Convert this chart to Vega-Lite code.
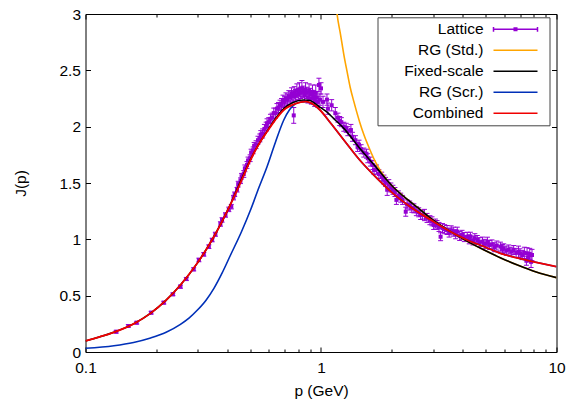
{
  "$schema": "https://vega.github.io/schema/vega-lite/v6.json",
  "width": 471,
  "height": 338,
  "autosize": {"type": "none"},
  "padding": {"left": 85.5, "top": 14, "right": 18.5, "bottom": 48},
  "config": {
    "font": "Liberation Sans",
    "view": {"stroke": "#000", "strokeWidth": 1},
    "axis": {"grid": false, "domain": false, "labelFontSize": 15.5, "titleFontSize": 15.5, "labelColor": "#000", "titleColor": "#000", "titleFontWeight": "normal", "tickColor": "#000", "tickWidth": 1, "labelFlush": false, "labelOverlap": false}
  },
  "datasets": {
    "lat": [
      {"p":0.135,"j":0.180,"lo":0.168,"hi":0.192},
      {"p":0.152,"j":0.231,"lo":0.219,"hi":0.243},
      {"p":0.165,"j":0.260,"lo":0.248,"hi":0.272},
      {"p":0.190,"j":0.349,"lo":0.337,"hi":0.361},
      {"p":0.215,"j":0.438,"lo":0.426,"hi":0.450},
      {"p":0.235,"j":0.512,"lo":0.500,"hi":0.524},
      {"p":0.253,"j":0.580,"lo":0.566,"hi":0.594},
      {"p":0.268,"j":0.648,"lo":0.634,"hi":0.662},
      {"p":0.288,"j":0.734,"lo":0.720,"hi":0.748},
      {"p":0.303,"j":0.817,"lo":0.801,"hi":0.833},
      {"p":0.318,"j":0.867,"lo":0.851,"hi":0.883},
      {"p":0.334,"j":0.935,"lo":0.919,"hi":0.951},
      {"p":0.345,"j":0.994,"lo":0.978,"hi":1.010},
      {"p":0.356,"j":1.045,"lo":1.027,"hi":1.063},
      {"p":0.374,"j":1.136,"lo":1.116,"hi":1.156},
      {"p":0.380,"j":1.172,"lo":1.152,"hi":1.192},
      {"p":0.393,"j":1.216,"lo":1.196,"hi":1.236},
      {"p":0.406,"j":1.266,"lo":1.246,"hi":1.286},
      {"p":0.416,"j":1.290,"lo":1.270,"hi":1.310},
      {"p":0.425,"j":1.37,"lo":1.35,"hi":1.39},
      {"p":0.43,"j":1.40,"lo":1.38,"hi":1.42},
      {"p":0.44,"j":1.44,"lo":1.42,"hi":1.46},
      {"p":0.445,"j":1.49,"lo":1.465,"hi":1.515},
      {"p":0.455,"j":1.52,"lo":1.495,"hi":1.545},
      {"p":0.46,"j":1.56,"lo":1.535,"hi":1.585},
      {"p":0.47,"j":1.58,"lo":1.55,"hi":1.61},
      {"p":0.475,"j":1.63,"lo":1.60,"hi":1.66},
      {"p":0.485,"j":1.66,"lo":1.63,"hi":1.69},
      {"p":0.49,"j":1.70,"lo":1.67,"hi":1.73},
      {"p":0.50,"j":1.72,"lo":1.69,"hi":1.75},
      {"p":0.505,"j":1.77,"lo":1.74,"hi":1.80},
      {"p":0.515,"j":1.79,"lo":1.76,"hi":1.82},
      {"p":0.52,"j":1.83,"lo":1.80,"hi":1.86},
      {"p":0.53,"j":1.84,"lo":1.805,"hi":1.875},
      {"p":0.54,"j":1.88,"lo":1.845,"hi":1.915},
      {"p":0.55,"j":1.90,"lo":1.865,"hi":1.935},
      {"p":0.555,"j":1.93,"lo":1.895,"hi":1.965},
      {"p":0.565,"j":1.94,"lo":1.90,"hi":1.98},
      {"p":0.575,"j":1.98,"lo":1.94,"hi":2.02},
      {"p":0.585,"j":2.00,"lo":1.96,"hi":2.04},
      {"p":0.59,"j":2.03,"lo":1.99,"hi":2.07},
      {"p":0.60,"j":2.04,"lo":2.00,"hi":2.08},
      {"p":0.61,"j":2.07,"lo":2.03,"hi":2.11},
      {"p":0.62,"j":2.08,"lo":2.04,"hi":2.12},
      {"p":0.63,"j":2.12,"lo":2.075,"hi":2.165},
      {"p":0.64,"j":2.12,"lo":2.075,"hi":2.165},
      {"p":0.65,"j":2.16,"lo":2.115,"hi":2.205},
      {"p":0.66,"j":2.17,"lo":2.125,"hi":2.215},
      {"p":0.67,"j":2.19,"lo":2.145,"hi":2.235},
      {"p":0.68,"j":2.20,"lo":2.15,"hi":2.25},
      {"p":0.69,"j":2.23,"lo":2.18,"hi":2.28},
      {"p":0.70,"j":2.22,"lo":2.17,"hi":2.27},
      {"p":0.71,"j":2.25,"lo":2.20,"hi":2.30},
      {"p":0.72,"j":2.24,"lo":2.19,"hi":2.29},
      {"p":0.73,"j":2.27,"lo":2.22,"hi":2.32},
      {"p":0.74,"j":2.26,"lo":2.21,"hi":2.31},
      {"p":0.75,"j":2.29,"lo":2.235,"hi":2.345},
      {"p":0.76,"j":2.27,"lo":2.22,"hi":2.32},
      {"p":0.766,"j":2.10,"lo":2.03,"hi":2.17},
      {"p":0.77,"j":2.30,"lo":2.245,"hi":2.355},
      {"p":0.78,"j":2.28,"lo":2.23,"hi":2.33},
      {"p":0.79,"j":2.32,"lo":2.26,"hi":2.38},
      {"p":0.80,"j":2.29,"lo":2.24,"hi":2.34},
      {"p":0.81,"j":2.33,"lo":2.27,"hi":2.39},
      {"p":0.82,"j":2.30,"lo":2.25,"hi":2.35},
      {"p":0.83,"j":2.34,"lo":2.27,"hi":2.41},
      {"p":0.84,"j":2.31,"lo":2.26,"hi":2.36},
      {"p":0.85,"j":2.28,"lo":2.23,"hi":2.33},
      {"p":0.86,"j":2.33,"lo":2.27,"hi":2.39},
      {"p":0.87,"j":2.30,"lo":2.25,"hi":2.35},
      {"p":0.88,"j":2.26,"lo":2.21,"hi":2.31},
      {"p":0.89,"j":2.32,"lo":2.26,"hi":2.38},
      {"p":0.90,"j":2.29,"lo":2.24,"hi":2.34},
      {"p":0.91,"j":2.25,"lo":2.20,"hi":2.30},
      {"p":0.92,"j":2.31,"lo":2.25,"hi":2.37},
      {"p":0.93,"j":2.27,"lo":2.22,"hi":2.32},
      {"p":0.94,"j":2.23,"lo":2.18,"hi":2.28},
      {"p":0.95,"j":2.30,"lo":2.23,"hi":2.37},
      {"p":0.96,"j":2.26,"lo":2.21,"hi":2.31},
      {"p":0.97,"j":2.22,"lo":2.17,"hi":2.27},
      {"p":0.98,"j":2.37,"lo":2.31,"hi":2.43},
      {"p":0.99,"j":2.24,"lo":2.19,"hi":2.29},
      {"p":1.00,"j":2.34,"lo":2.29,"hi":2.39},
      {"p":1.02,"j":2.22,"lo":2.17,"hi":2.27},
      {"p":1.06,"j":2.24,"lo":2.19,"hi":2.29},
      {"p":1.07,"j":2.16,"lo":2.11,"hi":2.21},
      {"p":1.11,"j":2.19,"lo":2.14,"hi":2.24},
      {"p":1.15,"j":2.12,"lo":2.07,"hi":2.17},
      {"p":1.18,"j":2.08,"lo":2.04,"hi":2.12},
      {"p":1.2,"j":2.05,"lo":2.01,"hi":2.09},
      {"p":1.22,"j":2.04,"lo":2.00,"hi":2.08},
      {"p":1.25,"j":2.00,"lo":1.96,"hi":2.04},
      {"p":1.28,"j":1.99,"lo":1.95,"hi":2.03},
      {"p":1.3,"j":1.96,"lo":1.92,"hi":2.00},
      {"p":1.34,"j":1.97,"lo":1.92,"hi":2.02},
      {"p":1.36,"j":1.91,"lo":1.87,"hi":1.95},
      {"p":1.4,"j":1.88,"lo":1.84,"hi":1.92},
      {"p":1.43,"j":1.82,"lo":1.78,"hi":1.86},
      {"p":1.45,"j":1.84,"lo":1.80,"hi":1.88},
      {"p":1.48,"j":1.80,"lo":1.76,"hi":1.84},
      {"p":1.52,"j":1.77,"lo":1.73,"hi":1.81},
      {"p":1.56,"j":1.76,"lo":1.72,"hi":1.80},
      {"p":1.58,"j":1.72,"lo":1.68,"hi":1.76},
      {"p":1.62,"j":1.69,"lo":1.65,"hi":1.73},
      {"p":1.66,"j":1.66,"lo":1.62,"hi":1.70},
      {"p":1.68,"j":1.615,"lo":1.575,"hi":1.655},
      {"p":1.72,"j":1.62,"lo":1.58,"hi":1.66},
      {"p":1.76,"j":1.58,"lo":1.54,"hi":1.62},
      {"p":1.81,"j":1.556,"lo":1.516,"hi":1.596},
      {"p":1.85,"j":1.53,"lo":1.49,"hi":1.57},
      {"p":1.88,"j":1.51,"lo":1.47,"hi":1.55},
      {"p":1.91,"j":1.44,"lo":1.39,"hi":1.49},
      {"p":1.94,"j":1.49,"lo":1.45,"hi":1.53},
      {"p":1.98,"j":1.46,"lo":1.42,"hi":1.50},
      {"p":2.02,"j":1.44,"lo":1.40,"hi":1.48},
      {"p":2.06,"j":1.42,"lo":1.38,"hi":1.46},
      {"p":2.09,"j":1.35,"lo":1.31,"hi":1.39},
      {"p":2.13,"j":1.39,"lo":1.35,"hi":1.43},
      {"p":2.18,"j":1.37,"lo":1.33,"hi":1.41},
      {"p":2.22,"j":1.35,"lo":1.31,"hi":1.39},
      {"p":2.29,"j":1.245,"lo":1.205,"hi":1.285},
      {"p":2.32,"j":1.31,"lo":1.27,"hi":1.35},
      {"p":2.38,"j":1.30,"lo":1.26,"hi":1.34},
      {"p":2.43,"j":1.28,"lo":1.24,"hi":1.32},
      {"p":2.48,"j":1.275,"lo":1.235,"hi":1.315},
      {"p":2.54,"j":1.25,"lo":1.21,"hi":1.29},
      {"p":2.6,"j":1.24,"lo":1.20,"hi":1.28},
      {"p":2.65,"j":1.216,"lo":1.176,"hi":1.256},
      {"p":2.7,"j":1.22,"lo":1.18,"hi":1.26},
      {"p":2.75,"j":1.216,"lo":1.166,"hi":1.266},
      {"p":2.82,"j":1.19,"lo":1.15,"hi":1.23},
      {"p":2.9,"j":1.17,"lo":1.13,"hi":1.21},
      {"p":2.96,"j":1.16,"lo":1.12,"hi":1.20},
      {"p":3.01,"j":1.127,"lo":1.087,"hi":1.167},
      {"p":3.06,"j":1.14,"lo":1.10,"hi":1.18},
      {"p":3.11,"j":1.127,"lo":1.087,"hi":1.167},
      {"p":3.17,"j":1.11,"lo":1.07,"hi":1.15},
      {"p":3.22,"j":1.023,"lo":0.988,"hi":1.058},
      {"p":3.28,"j":1.10,"lo":1.06,"hi":1.14},
      {"p":3.35,"j":1.09,"lo":1.05,"hi":1.13},
      {"p":3.43,"j":1.083,"lo":1.043,"hi":1.123},
      {"p":3.5,"j":1.06,"lo":1.02,"hi":1.10},
      {"p":3.57,"j":1.08,"lo":1.04,"hi":1.12},
      {"p":3.66,"j":1.068,"lo":1.028,"hi":1.108},
      {"p":3.73,"j":1.045,"lo":1.005,"hi":1.085},
      {"p":3.79,"j":1.068,"lo":1.028,"hi":1.108},
      {"p":3.88,"j":1.03,"lo":0.99,"hi":1.07},
      {"p":3.97,"j":1.04,"lo":1.00,"hi":1.08},
      {"p":4.06,"j":1.02,"lo":0.98,"hi":1.06},
      {"p":4.18,"j":1.023,"lo":0.983,"hi":1.063},
      {"p":4.26,"j":1.00,"lo":0.96,"hi":1.04},
      {"p":4.31,"j":1.023,"lo":0.983,"hi":1.063},
      {"p":4.42,"j":0.99,"lo":0.95,"hi":1.03},
      {"p":4.5,"j":1.01,"lo":0.97,"hi":1.05},
      {"p":4.61,"j":0.994,"lo":0.954,"hi":1.034},
      {"p":4.72,"j":0.975,"lo":0.935,"hi":1.015},
      {"p":4.85,"j":0.98,"lo":0.94,"hi":1.02},
      {"p":4.97,"j":0.96,"lo":0.92,"hi":1.00},
      {"p":5.09,"j":0.979,"lo":0.939,"hi":1.019},
      {"p":5.2,"j":0.95,"lo":0.91,"hi":0.99},
      {"p":5.32,"j":0.955,"lo":0.915,"hi":0.995},
      {"p":5.45,"j":0.93,"lo":0.89,"hi":0.97},
      {"p":5.58,"j":0.945,"lo":0.905,"hi":0.985},
      {"p":5.78,"j":0.935,"lo":0.895,"hi":0.975},
      {"p":5.9,"j":0.915,"lo":0.875,"hi":0.955},
      {"p":5.97,"j":0.92,"lo":0.88,"hi":0.96},
      {"p":6.12,"j":0.90,"lo":0.86,"hi":0.94},
      {"p":6.27,"j":0.91,"lo":0.87,"hi":0.95},
      {"p":6.42,"j":0.89,"lo":0.85,"hi":0.93},
      {"p":6.58,"j":0.905,"lo":0.865,"hi":0.945},
      {"p":6.74,"j":0.88,"lo":0.84,"hi":0.92},
      {"p":6.9,"j":0.89,"lo":0.84,"hi":0.94},
      {"p":7.0,"j":0.876,"lo":0.836,"hi":0.916},
      {"p":7.15,"j":0.86,"lo":0.82,"hi":0.90},
      {"p":7.3,"j":0.88,"lo":0.83,"hi":0.93},
      {"p":7.45,"j":0.81,"lo":0.77,"hi":0.85},
      {"p":7.5,"j":0.876,"lo":0.826,"hi":0.926},
      {"p":7.6,"j":0.84,"lo":0.80,"hi":0.88},
      {"p":7.7,"j":0.87,"lo":0.82,"hi":0.92},
      {"p":7.8,"j":0.80,"lo":0.75,"hi":0.85},
      {"p":7.87,"j":0.861,"lo":0.811,"hi":0.911}
    ],
    "curves": [
      {"s":"RG (Std.)","p":1.15,"j":3.15},
      {"s":"RG (Std.)","p":1.17,"j":3.0},
      {"s":"RG (Std.)","p":1.21,"j":2.82},
      {"s":"RG (Std.)","p":1.25,"j":2.64},
      {"s":"RG (Std.)","p":1.29,"j":2.49},
      {"s":"RG (Std.)","p":1.33,"j":2.35},
      {"s":"RG (Std.)","p":1.38,"j":2.22},
      {"s":"RG (Std.)","p":1.46,"j":2.04},
      {"s":"RG (Std.)","p":1.52,"j":1.93},
      {"s":"RG (Std.)","p":1.61,"j":1.80},
      {"s":"RG (Std.)","p":1.70,"j":1.69},
      {"s":"RG (Std.)","p":1.80,"j":1.60},
      {"s":"RG (Std.)","p":1.90,"j":1.53},
      {"s":"RG (Std.)","p":1.97,"j":1.49},
      {"s":"RG (Std.)","p":2.05,"j":1.455},
      {"s":"RG (Std.)","p":2.39,"j":1.334},
      {"s":"RG (Std.)","p":2.65,"j":1.26},
      {"s":"RG (Std.)","p":3.0,"j":1.17},
      {"s":"RG (Std.)","p":3.55,"j":1.068},
      {"s":"RG (Std.)","p":4.2,"j":0.98},
      {"s":"RG (Std.)","p":4.93,"j":0.905},
      {"s":"RG (Std.)","p":5.8,"j":0.835},
      {"s":"RG (Std.)","p":6.83,"j":0.772},
      {"s":"RG (Std.)","p":8.2,"j":0.71},
      {"s":"RG (Std.)","p":10,"j":0.66},
      {"s":"Fixed-scale","p":0.1,"j":0.098},
      {"s":"Fixed-scale","p":0.1318,"j":0.175},
      {"s":"Fixed-scale","p":0.16,"j":0.25},
      {"s":"Fixed-scale","p":0.1887,"j":0.343},
      {"s":"Fixed-scale","p":0.22,"j":0.46},
      {"s":"Fixed-scale","p":0.253,"j":0.595},
      {"s":"Fixed-scale","p":0.298,"j":0.787},
      {"s":"Fixed-scale","p":0.3508,"j":1.023},
      {"s":"Fixed-scale","p":0.406,"j":1.28},
      {"s":"Fixed-scale","p":0.45,"j":1.49},
      {"s":"Fixed-scale","p":0.502,"j":1.71},
      {"s":"Fixed-scale","p":0.55,"j":1.86},
      {"s":"Fixed-scale","p":0.59,"j":1.96},
      {"s":"Fixed-scale","p":0.64,"j":2.07},
      {"s":"Fixed-scale","p":0.695,"j":2.16},
      {"s":"Fixed-scale","p":0.76,"j":2.215},
      {"s":"Fixed-scale","p":0.84,"j":2.237},
      {"s":"Fixed-scale","p":0.898,"j":2.232},
      {"s":"Fixed-scale","p":0.963,"j":2.19},
      {"s":"Fixed-scale","p":1.055,"j":2.133},
      {"s":"Fixed-scale","p":1.135,"j":2.07},
      {"s":"Fixed-scale","p":1.25,"j":1.985},
      {"s":"Fixed-scale","p":1.46,"j":1.808},
      {"s":"Fixed-scale","p":1.73,"j":1.63},
      {"s":"Fixed-scale","p":2.02,"j":1.467},
      {"s":"Fixed-scale","p":2.39,"j":1.334},
      {"s":"Fixed-scale","p":2.65,"j":1.26},
      {"s":"Fixed-scale","p":3.0,"j":1.17},
      {"s":"Fixed-scale","p":3.55,"j":1.068},
      {"s":"Fixed-scale","p":4.2,"j":0.98},
      {"s":"Fixed-scale","p":4.93,"j":0.905},
      {"s":"Fixed-scale","p":5.8,"j":0.835},
      {"s":"Fixed-scale","p":6.83,"j":0.772},
      {"s":"Fixed-scale","p":8.2,"j":0.71},
      {"s":"Fixed-scale","p":10,"j":0.66},
      {"s":"RG (Scr.)","p":0.1,"j":0.033},
      {"s":"RG (Scr.)","p":0.132,"j":0.056},
      {"s":"RG (Scr.)","p":0.16,"j":0.085},
      {"s":"RG (Scr.)","p":0.189,"j":0.125},
      {"s":"RG (Scr.)","p":0.22,"j":0.175},
      {"s":"RG (Scr.)","p":0.253,"j":0.245},
      {"s":"RG (Scr.)","p":0.275,"j":0.30},
      {"s":"RG (Scr.)","p":0.298,"j":0.37},
      {"s":"RG (Scr.)","p":0.325,"j":0.46},
      {"s":"RG (Scr.)","p":0.351,"j":0.565},
      {"s":"RG (Scr.)","p":0.38,"j":0.70},
      {"s":"RG (Scr.)","p":0.413,"j":0.861},
      {"s":"RG (Scr.)","p":0.46,"j":1.07},
      {"s":"RG (Scr.)","p":0.502,"j":1.26},
      {"s":"RG (Scr.)","p":0.545,"j":1.46},
      {"s":"RG (Scr.)","p":0.59,"j":1.645},
      {"s":"RG (Scr.)","p":0.64,"j":1.86},
      {"s":"RG (Scr.)","p":0.695,"j":2.059},
      {"s":"RG (Scr.)","p":0.735,"j":2.15},
      {"s":"RG (Scr.)","p":0.766,"j":2.192},
      {"s":"RG (Scr.)","p":0.80,"j":2.215},
      {"s":"RG (Scr.)","p":0.86,"j":2.222},
      {"s":"RG (Scr.)","p":0.898,"j":2.213},
      {"s":"RG (Scr.)","p":0.99,"j":2.148},
      {"s":"RG (Scr.)","p":1.10,"j":2.03},
      {"s":"RG (Scr.)","p":1.25,"j":1.882},
      {"s":"RG (Scr.)","p":1.46,"j":1.704},
      {"s":"RG (Scr.)","p":1.73,"j":1.541},
      {"s":"RG (Scr.)","p":2.02,"j":1.408},
      {"s":"RG (Scr.)","p":2.39,"j":1.29},
      {"s":"RG (Scr.)","p":3.01,"j":1.157},
      {"s":"RG (Scr.)","p":3.6,"j":1.06},
      {"s":"RG (Scr.)","p":4.18,"j":0.994},
      {"s":"RG (Scr.)","p":5.0,"j":0.93},
      {"s":"RG (Scr.)","p":5.78,"j":0.876},
      {"s":"RG (Scr.)","p":6.8,"j":0.835},
      {"s":"RG (Scr.)","p":8.01,"j":0.801},
      {"s":"RG (Scr.)","p":10,"j":0.757},
      {"s":"Combined","p":0.1,"j":0.098},
      {"s":"Combined","p":0.115,"j":0.135},
      {"s":"Combined","p":0.1318,"j":0.175},
      {"s":"Combined","p":0.16,"j":0.25},
      {"s":"Combined","p":0.1887,"j":0.343},
      {"s":"Combined","p":0.22,"j":0.46},
      {"s":"Combined","p":0.253,"j":0.595},
      {"s":"Combined","p":0.298,"j":0.787},
      {"s":"Combined","p":0.3508,"j":1.023},
      {"s":"Combined","p":0.406,"j":1.28},
      {"s":"Combined","p":0.45,"j":1.48},
      {"s":"Combined","p":0.502,"j":1.704},
      {"s":"Combined","p":0.55,"j":1.86},
      {"s":"Combined","p":0.59,"j":1.955},
      {"s":"Combined","p":0.64,"j":2.06},
      {"s":"Combined","p":0.695,"j":2.148},
      {"s":"Combined","p":0.78,"j":2.205},
      {"s":"Combined","p":0.86,"j":2.222},
      {"s":"Combined","p":0.898,"j":2.213},
      {"s":"Combined","p":0.99,"j":2.148},
      {"s":"Combined","p":1.10,"j":2.03},
      {"s":"Combined","p":1.25,"j":1.882},
      {"s":"Combined","p":1.46,"j":1.704},
      {"s":"Combined","p":1.73,"j":1.541},
      {"s":"Combined","p":2.02,"j":1.408},
      {"s":"Combined","p":2.39,"j":1.29},
      {"s":"Combined","p":3.01,"j":1.157},
      {"s":"Combined","p":3.6,"j":1.06},
      {"s":"Combined","p":4.18,"j":0.994},
      {"s":"Combined","p":5.0,"j":0.93},
      {"s":"Combined","p":5.78,"j":0.876},
      {"s":"Combined","p":6.8,"j":0.835},
      {"s":"Combined","p":8.01,"j":0.801},
      {"s":"Combined","p":10,"j":0.757}
    ]
  },
  "resolve": {"axis": {"x": "independent", "y": "independent"}},
  "layer": [
    {
      "data": {"name": "lat"},
      "mark": {"type": "rule", "strokeWidth": 1},
      "encoding": {
        "x": {"field": "p", "type": "quantitative", "scale": {"type": "log", "domain": [0.1, 10], "nice": false},
              "axis": {"orient": "bottom", "values": [0.1, 1, 10], "format": "~g", "tickSize": -5, "labelPadding": 13, "title": "p (GeV)", "titlePadding": 8}},
        "y": {"field": "lo", "type": "quantitative", "scale": {"domain": [0, 3], "nice": false, "zero": false},
              "axis": {"orient": "left", "values": [0, 0.5, 1, 1.5, 2, 2.5, 3], "format": "~g", "tickSize": -5, "labelPadding": 10, "title": "J(p)", "titlePadding": 30}},
        "y2": {"field": "hi"},
        "color": {"datum": "Lattice"}
      }
    },
    {
      "data": {"name": "lat"},
      "mark": {"type": "tick", "orient": "horizontal", "size": 5, "thickness": 1, "opacity": 1},
      "encoding": {
        "x": {"field": "p", "type": "quantitative", "scale": {"type": "log", "domain": [0.1, 10], "nice": false},
              "axis": {"orient": "bottom", "values": [0.2, 0.3, 0.4, 0.5, 0.6, 0.7, 0.8, 0.9, 2, 3, 4, 5, 6, 7, 8, 9], "labels": false, "tickSize": -3, "title": null}},
        "y": {"field": "lo", "type": "quantitative", "scale": {"domain": [0, 3], "nice": false, "zero": false},
              "axis": {"orient": "right", "values": [0, 0.5, 1, 1.5, 2, 2.5, 3], "labels": false, "tickSize": -5, "title": null}},
        "color": {"datum": "Lattice"}
      }
    },
    {
      "data": {"name": "lat"},
      "mark": {"type": "tick", "orient": "horizontal", "size": 5, "thickness": 1, "opacity": 1},
      "encoding": {
        "x": {"field": "p", "type": "quantitative", "scale": {"type": "log", "domain": [0.1, 10], "nice": false},
              "axis": {"orient": "top", "values": [0.1, 1, 10], "labels": false, "tickSize": -5, "title": null}},
        "y": {"field": "hi", "type": "quantitative", "scale": {"domain": [0, 3], "nice": false, "zero": false}, "axis": null},
        "color": {"datum": "Lattice"}
      }
    },
    {
      "data": {"name": "lat"},
      "mark": {"type": "point", "shape": "square", "filled": true, "size": 16, "opacity": 1, "strokeWidth": 0},
      "encoding": {
        "x": {"field": "p", "type": "quantitative", "scale": {"type": "log", "domain": [0.1, 10], "nice": false},
              "axis": {"orient": "top", "values": [0.2, 0.3, 0.4, 0.5, 0.6, 0.7, 0.8, 0.9, 2, 3, 4, 5, 6, 7, 8, 9], "labels": false, "tickSize": -3, "title": null}},
        "y": {"field": "j", "type": "quantitative", "scale": {"domain": [0, 3], "nice": false, "zero": false}, "axis": null},
        "color": {"datum": "Lattice"}
      }
    },
    {
      "data": {"name": "curves"},
      "transform": [{"filter": {"field": "s", "equal": "RG (Std.)"}}],
      "mark": {"type": "line", "strokeWidth": 1.6, "clip": true, "interpolate": "monotone"},
      "encoding": {
        "x": {"field": "p", "type": "quantitative", "scale": {"type": "log", "domain": [0.1, 10], "nice": false}, "axis": null},
        "y": {"field": "j", "type": "quantitative", "scale": {"domain": [0, 3], "nice": false, "zero": false}, "axis": null},
        "color": {"field": "s", "type": "nominal",
          "scale": {"domain": ["Lattice", "RG (Std.)", "Fixed-scale", "RG (Scr.)", "Combined"], "range": ["#9400d3", "#ffa500", "#000000", "#0030b8", "#f00000"]},
          "legend": {
            "orient": "none", "legendX": 292, "legendY": 3.3, "title": null,
            "padding": 3, "rowPadding": 3,
            "symbolSize": 256, "symbolStrokeWidth": 1.5, "symbolOffset": 126,
            "labelOffset": -41, "labelAlign": "right", "labelFontSize": 15.5, "labelFont": "Liberation Sans", "labelColor": "#000", "labelLimit": 200,
            "strokeColor": "#444", "fillColor": "#ffffff",
            "encode": {"symbols": {"update": {
              "shape": [{"test": "datum.value === 'Lattice'", "value": "M-2.75,0H2.75M-2.75,-0.3V0.3M2.75,-0.3V0.3M-0.16,-0.16H0.16V0.16H-0.16ZM3.45,0"}, {"value": "M-2.75,0H2.75M3.45,0"}],
              "stroke": {"scale": "color", "field": "value"},
              "fill": {"scale": "color", "field": "value"},
              "strokeWidth": {"value": 1.5},
              "opacity": {"value": 1}
            }}}
          }
        }
      }
    },
    {
      "data": {"name": "curves"},
      "transform": [{"filter": {"field": "s", "equal": "Fixed-scale"}}],
      "mark": {"type": "line", "strokeWidth": 1.6, "clip": true, "interpolate": "monotone"},
      "encoding": {
        "x": {"field": "p", "type": "quantitative", "scale": {"type": "log", "domain": [0.1, 10], "nice": false}, "axis": null},
        "y": {"field": "j", "type": "quantitative", "scale": {"domain": [0, 3], "nice": false, "zero": false}, "axis": null},
        "color": {"field": "s", "type": "nominal"}
      }
    },
    {
      "data": {"name": "curves"},
      "transform": [{"filter": {"field": "s", "equal": "RG (Scr.)"}}],
      "mark": {"type": "line", "strokeWidth": 1.6, "clip": true, "interpolate": "monotone"},
      "encoding": {
        "x": {"field": "p", "type": "quantitative", "scale": {"type": "log", "domain": [0.1, 10], "nice": false}, "axis": null},
        "y": {"field": "j", "type": "quantitative", "scale": {"domain": [0, 3], "nice": false, "zero": false}, "axis": null},
        "color": {"field": "s", "type": "nominal"}
      }
    },
    {
      "data": {"name": "curves"},
      "transform": [{"filter": {"field": "s", "equal": "Combined"}}],
      "mark": {"type": "line", "strokeWidth": 1.8, "clip": true, "interpolate": "monotone"},
      "encoding": {
        "x": {"field": "p", "type": "quantitative", "scale": {"type": "log", "domain": [0.1, 10], "nice": false}, "axis": null},
        "y": {"field": "j", "type": "quantitative", "scale": {"domain": [0, 3], "nice": false, "zero": false}, "axis": null},
        "color": {"field": "s", "type": "nominal"}
      }
    }
  ]
}
